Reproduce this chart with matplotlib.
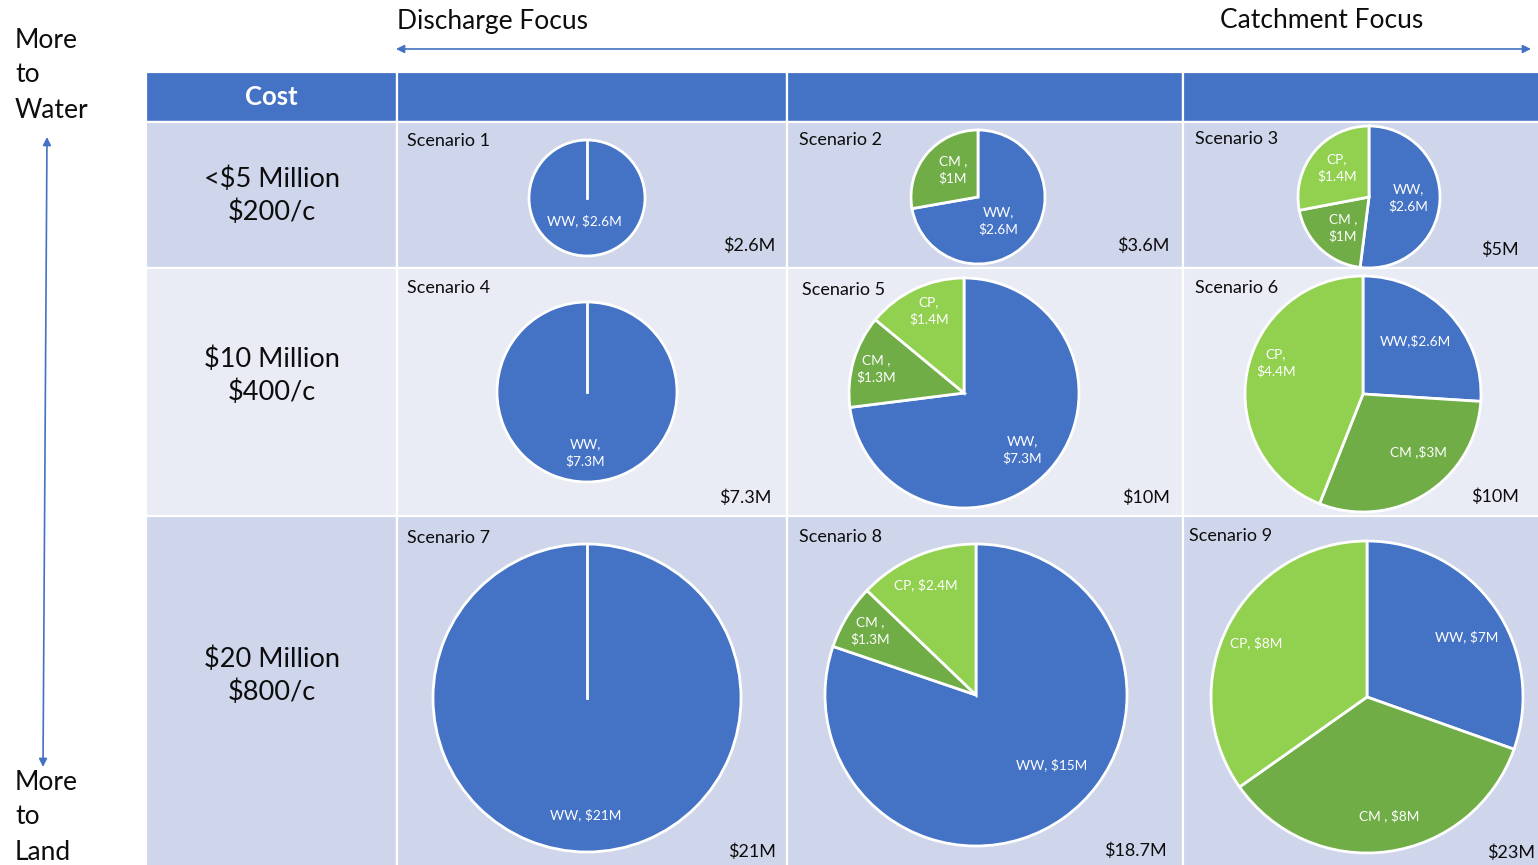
import matplotlib.pyplot as plt
from matplotlib.patches import Rectangle
import numpy as np

# data
slice_names = ['WW', 'CM', 'CP']
scenarios = ['Scenario 1', 'Scenario 2', 'Scenario 3',
             'Scenario 4', 'Scenario 5', 'Scenario 6',
             'Scenario 7', 'Scenario 8', 'Scenario 9']
ww_cost = [2.6, 2.6, 2.6, 7.3, 7.3, 2.6, 21, 15, 7]
cm_cost = [0, 1, 1, 0, 1.3, 3, 0, 1.3, 8]
cp_cost = [0, 0, 1.4, 0, 1.4, 4.4, 0, 2.4, 8]
totals = ['$2.6M', '$3.6M', '$5M', '$7.3M', '$10M', '$10M', '$21M', '$18.7M', '$23M']
row_labels = ['<$5 Million\n$200/c', '$10 Million\n$400/c', '$20 Million\n$800/c']
slice_labels = [
    {'WW': 'WW, $2.6M'},
    {'WW': 'WW,\n$2.6M', 'CM': 'CM ,\n$1M'},
    {'WW': 'WW,\n$2.6M', 'CM': 'CM ,\n$1M', 'CP': 'CP,\n$1.4M'},
    {'WW': 'WW,\n$7.3M'},
    {'WW': 'WW,\n$7.3M', 'CM': 'CM ,\n$1.3M', 'CP': 'CP,\n$1.4M'},
    {'WW': 'WW,$2.6M', 'CM': 'CM ,$3M', 'CP': 'CP,\n$4.4M'},
    {'WW': 'WW, $21M'},
    {'WW': 'WW, $15M', 'CM': 'CM ,\n$1.3M', 'CP': 'CP, $2.4M'},
    {'WW': 'WW, $7M', 'CM': 'CM , $8M', 'CP': 'CP, $8M'},
]

# layout (pixels)
col_x = [146, 397, 787, 1183, 1540]
row_y = [72, 122, 268, 516, 868]
pie_centers = [(587, 198), (978, 197), (1369, 197),
               (587, 392), (964, 393), (1363, 394),
               (587, 698), (976, 695), (1367, 697)]
pie_radius = [58, 67, 71, 90, 115, 118, 154, 151, 156]
label_pos = [
    {'WW': (584, 221)},
    {'WW': (998, 221), 'CM': (953, 170)},
    {'WW': (1408, 198), 'CM': (1343, 228), 'CP': (1337, 168)},
    {'WW': (585, 453)},
    {'WW': (1022, 450), 'CM': (876, 369), 'CP': (929, 311)},
    {'WW': (1415, 341), 'CM': (1418, 452), 'CP': (1276, 363)},
    {'WW': (586, 815)},
    {'WW': (1052, 765), 'CM': (870, 631), 'CP': (926, 585)},
    {'WW': (1467, 637), 'CM': (1389, 816), 'CP': (1256, 643)},
]
total_pos = [(775, 246), (1169, 246), (1519, 250),
             (771, 498), (1170, 498), (1519, 497),
             (776, 852), (1167, 851), (1535, 853)]
name_pos = [(407, 141), (799, 140), (1195, 139),
            (407, 288), (802, 290), (1195, 288),
            (407, 538), (799, 537), (1189, 536)]

colors = {'WW': '#4472C4', 'CM': '#70AD47', 'CP': '#92D050'}
blue = '#4472C4'
row_colors = ['#CFD5EA', '#E9EBF5', '#CFD5EA']
ink = '#0d0d0d'

plt.rcParams['font.family'] = ['Lato', 'DejaVu Sans']

fig = plt.figure(figsize=(15.38, 8.65), dpi=100)
ax = fig.add_axes([0, 0, 1, 1])

# table cells
for j in range(4):
    ax.add_patch(Rectangle((col_x[j], row_y[0]), col_x[j + 1] - col_x[j], row_y[1] - row_y[0],
                           facecolor=blue, edgecolor='white', lw=1.6, zorder=1))
    for i in range(3):
        ax.add_patch(Rectangle((col_x[j], row_y[i + 1]), col_x[j + 1] - col_x[j],
                               row_y[i + 2] - row_y[i + 1],
                               facecolor=row_colors[i], edgecolor='white', lw=1.6, zorder=1))

ax.text((col_x[0] + col_x[1]) / 2, 97, 'Cost', color='white', fontsize=18.5,
        fontweight='bold', ha='center', va='center', zorder=3)
for i, lab in enumerate(row_labels):
    ax.text((col_x[0] + col_x[1]) / 2, [196, 376, 676][i], lab, fontsize=19.5,
            ha='center', va='center', linespacing=1.35, color=ink, zorder=3)

# pies (y axis is inverted, so start at 270 and go "counterclock" in data space)
for k in range(9):
    vals = [ww_cost[k], cm_cost[k], cp_cost[k]]
    names = [n for n, v in zip(slice_names, vals) if v > 0]
    vals = [v for v in vals if v > 0]
    wedges, _ = ax.pie(vals, colors=[colors[n] for n in names], center=pie_centers[k],
                       radius=pie_radius[k], startangle=270, counterclock=True, frame=True,
                       wedgeprops=dict(edgecolor='white', linewidth=2))
    if len(wedges) == 1:
        # a lone full wedge still shows its start edge in the original
        w = wedges[0]
        t = np.deg2rad(w.theta1)
        ax.plot([w.center[0], w.center[0] + w.r * np.cos(t)],
                [w.center[1], w.center[1] + w.r * np.sin(t)],
                color='white', lw=2, zorder=3)
    for n in names:
        x, y = label_pos[k][n]
        ax.text(x, y, slice_labels[k][n], color='white', fontsize=9.8,
                ha='center', va='center', linespacing=1.5, zorder=4)
    ax.text(name_pos[k][0], name_pos[k][1], scenarios[k], fontsize=13,
            ha='left', va='center', color=ink, zorder=4)
    ax.text(total_pos[k][0], total_pos[k][1], totals[k], fontsize=13,
            ha='right', va='center', color=ink, zorder=4)

# focus arrow
ax.text(397, 21, 'Discharge Focus', fontsize=19, ha='left', va='center', color=ink)
ax.text(1322, 21, 'Catchment Focus', fontsize=19, ha='center', va='center', color=ink)
ax.annotate('', xy=(1531, 49), xytext=(396, 49),
            arrowprops=dict(arrowstyle='<|-|>', color=blue, lw=1.2, mutation_scale=12,
                            shrinkA=0, shrinkB=0))

# water/land arrow
ax.text(15, 75, 'More\nto\nWater', fontsize=19, ha='left', va='center',
        linespacing=1.5, color=ink)
ax.text(15, 817, 'More\nto\nLand', fontsize=19, ha='left', va='center',
        linespacing=1.5, color=ink)
ax.annotate('', xy=(43, 767), xytext=(47, 137),
            arrowprops=dict(arrowstyle='<|-|>', color=blue, lw=1.2, mutation_scale=12,
                            shrinkA=0, shrinkB=0))

ax.set_xlim(0, 1538)
ax.set_ylim(865, 0)
ax.set_aspect('auto')
ax.axis('off')

plt.savefig('out.png', dpi=100)
plt.close()
